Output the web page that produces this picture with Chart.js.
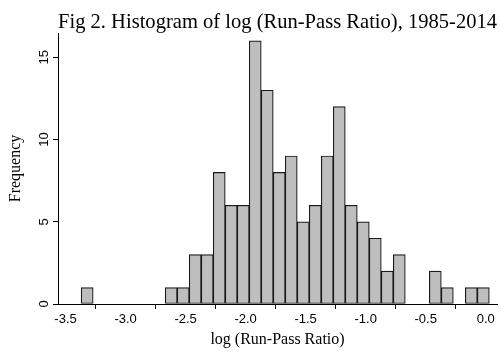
<!DOCTYPE html>
<html>
<head>
<meta charset="utf-8">
<script src="https://cdn.jsdelivr.net/npm/chart.js@4/dist/chart.umd.min.js"></script>
<style>
  html, body { margin: 0; padding: 0; background: #fff; }
</style>
</head>
<body>
<canvas id="chart" width="501" height="354"></canvas>
<script>
// bin centres (bins 0.1 wide, edges at -3.37, -3.27, ...)
const binCenters = [-3.32, -3.22, -3.12, -3.02, -2.92, -2.82, -2.72, -2.62, -2.52, -2.42,
                    -2.32, -2.22, -2.12, -2.02, -1.92, -1.82, -1.72, -1.62, -1.52, -1.42,
                    -1.32, -1.22, -1.12, -1.02, -0.92, -0.82, -0.72, -0.62, -0.52, -0.42,
                    -0.32, -0.22, -0.12, -0.02];
const frequency  = [1, 0, 0, 0, 0, 0, 0, 1, 1, 3,
                    3, 8, 6, 6, 16, 13, 8, 9, 5, 6,
                    9, 12, 6, 5, 4, 2, 3, 0, 0, 2,
                    1, 0, 1, 1];
const xTicks = [-3.5, -3.0, -2.5, -2.0, -1.5, -1.0, -0.5, 0.0];
const yTicks = [0, 5, 10, 15];

const serif = "'Liberation Serif', 'Times New Roman', serif";
const sans  = "'Liberation Sans', Arial, sans-serif";

const ctx = document.getElementById('chart').getContext('2d');

new Chart(ctx, {
  type: 'bar',
  data: {
    datasets: [{
      data: binCenters.map((x, i) => ({ x, y: frequency[i] })),
      backgroundColor: '#bebebe',
      borderColor: '#1a1a1a',
      borderWidth: 1.2,
      borderSkipped: false,
      barPercentage: 1,
      categoryPercentage: 1
    }]
  },
  options: {
    responsive: false,
    animation: false,
    devicePixelRatio: 1,
    layout: { padding: { top: 0, right: 4, bottom: 0, left: 0 } },
    plugins: {
      legend: { display: false },
      tooltip: { enabled: false },
      title: {
        display: true,
        text: 'Fig 2. Histogram of log (Run-Pass Ratio), 1985-2014',
        color: '#000',
        fullSize: false,
        font: { family: serif, size: 21, weight: 'normal', lineHeight: 1 },
        padding: { top: 12, bottom: 0 }
      }
    },
    scales: {
      x: {
        type: 'linear',
        offset: false,
        min: -3.563,
        max: 0.094,
        afterBuildTicks: s => { s.ticks = xTicks.map(v => ({ value: v })); },
        afterFit: s => { s.height = 50; s.paddingLeft = 0; s.paddingRight = 0; },
        ticks: {
          color: '#000',
          font: { family: sans, size: 13 },
          padding: 3,
          maxRotation: 0,
          autoSkip: false,
          callback: v => v.toFixed(1)
        },
        grid: { display: true, drawOnChartArea: false, drawTicks: true, tickLength: 5, tickColor: '#000' },
        border: { display: true, color: '#000', width: 1 },
        title: {
          display: true,
          text: 'log (Run-Pass Ratio)',
          color: '#000',
          font: { family: serif, size: 16 },
          padding: { top: 2, bottom: 5 }
        }
      },
      y: {
        min: 0,
        max: 16.48,
        afterBuildTicks: s => { s.ticks = yTicks.map(v => ({ value: v })); },
        afterFit: s => { s.width = 58; s.paddingTop = 0; s.paddingBottom = 0; },
        ticks: {
          color: '#000',
          font: { family: sans, size: 13 },
          padding: 1,
          minRotation: 90,
          maxRotation: 90,
          crossAlign: 'center'
        },
        grid: { display: true, drawOnChartArea: false, drawTicks: true, tickLength: 5, tickColor: '#000' },
        border: { display: true, color: '#000', width: 1 },
        title: {
          display: true,
          text: 'Frequency',
          color: '#000',
          font: { family: serif, size: 16 },
          padding: { top: 6, bottom: 0 }
        }
      }
    }
  }
});
</script>
</body>
</html>
